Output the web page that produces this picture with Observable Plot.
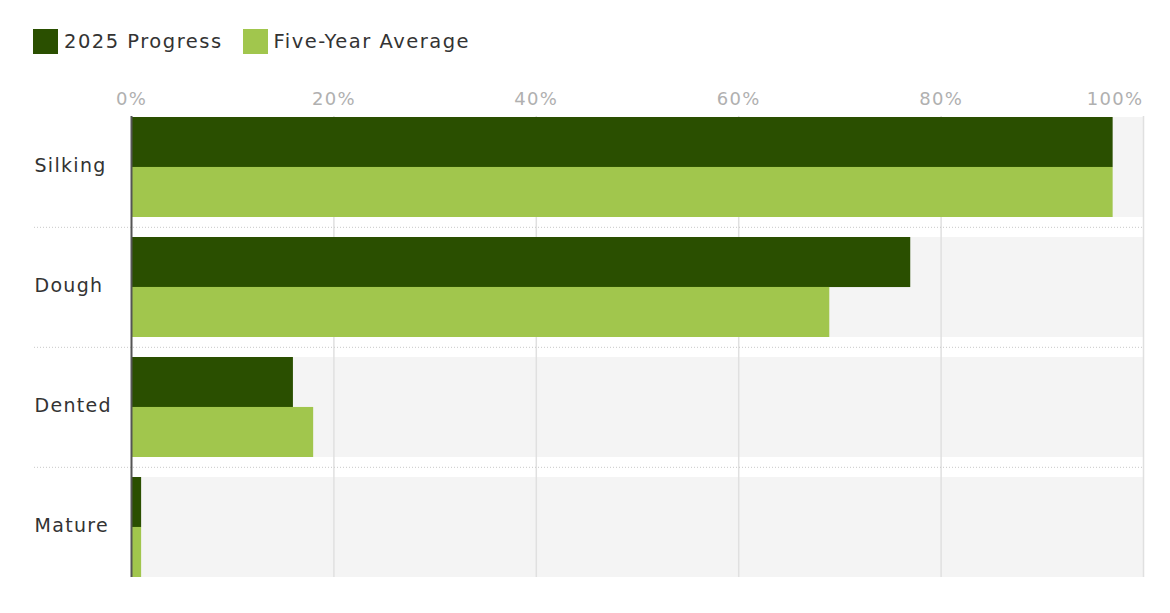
<!DOCTYPE html>
<html>
<head>
<meta charset="utf-8">
<script src="https://cdn.jsdelivr.net/npm/d3@7"></script>
<script src="https://cdn.jsdelivr.net/npm/@observablehq/plot@0.6"></script>
<style>
  body { margin: 0; background: #fff; font-family: "DejaVu Sans", sans-serif; }
  #legend { height: 70px; box-sizing: border-box; padding: 29px 0 0 33px; display: flex; align-items: flex-start; }
  .item { display: flex; align-items: center; margin-right: 20px; font-size: 19.5px; letter-spacing: 1.5px; color: #333; }
  .sw { width: 25px; height: 25px; margin-right: 6px; }
</style>
</head>
<body>
<div id="legend"></div>
<div id="chart"></div>
<script>
const categories = ["Silking", "Dough", "Dented", "Mature"];
const progress2025 = [97, 77, 16, 1];
const fiveYearAvg = [97, 69, 18, 1];
const seriesNames = ["2025 Progress", "Five-Year Average"];
const seriesColors = ["#2a4f00", "#a1c64d"];
const xTicks = [0, 20, 40, 60, 80, 100];

const legend = document.getElementById("legend");
seriesNames.forEach((n, i) => {
  const it = document.createElement("div");
  it.className = "item";
  it.innerHTML = `<span class="sw" style="background:${seriesColors[i]}"></span><span>${n}</span>`;
  legend.appendChild(it);
});

const width = 1170, height = 543;
const marginTop = 46, marginBottom = 36, marginLeft = 131, marginRight = 27;
const padInner = 0.17;
const innerH = height - marginTop - marginBottom;
const step = innerH / (categories.length - padInner);
const bw = step * (1 - padInner);
const half = bw / 2;

const rows = categories.map((c, i) => ({cat: c, p: progress2025[i], a: fiveYearAvg[i]}));

const chart = Plot.plot({
  width, height, marginTop, marginBottom, marginLeft, marginRight,
  style: {fontFamily: "DejaVu Sans, sans-serif", fontSize: "18px", background: "#fff", letterSpacing: "1.3px"},
  x: {domain: [0, 100], ticks: xTicks},
  y: {domain: categories, paddingInner: padInner, paddingOuter: 0, axis: null},
  marks: [
    Plot.barX(rows, {y: "cat", x1: 0, x2: 100, fill: "#f4f4f4"}),
    Plot.ruleX(xTicks.slice(1), {stroke: "#e0e0e0", strokeWidth: 1.5}),
    Plot.ruleY(categories.slice(1), {y: d => d, dy: -(bw / 2 + (step - bw) / 2), insetLeft: -97, stroke: "#c8c8c8", strokeWidth: 1, strokeDasharray: "1,2"}),
    Plot.barX(rows, {y: "cat", x: "p", fill: seriesColors[0], insetBottom: half}),
    Plot.barX(rows, {y: "cat", x: "a", fill: seriesColors[1], insetTop: half}),
    Plot.ruleX([0], {stroke: "#555", strokeWidth: 2}),
    Plot.text(categories, {y: d => d, frameAnchor: "left", textAnchor: "start", dx: -97, dy: -2, fill: "#333", fontSize: 19}),
    Plot.axisX({anchor: "top", ticks: xTicks.slice(0, -1), tickSize: 0, tickPadding: 12, tickFormat: d => d + "%", label: null, fill: "#b0b0b0", fontSize: 18}),
    Plot.axisX({anchor: "top", ticks: xTicks.slice(-1), tickSize: 0, tickPadding: 12, tickFormat: d => d + "%", label: null, fill: "#b0b0b0", fontSize: 18, textAnchor: "end"})
  ]
});
document.getElementById("chart").appendChild(chart);
</script>
</body>
</html>
